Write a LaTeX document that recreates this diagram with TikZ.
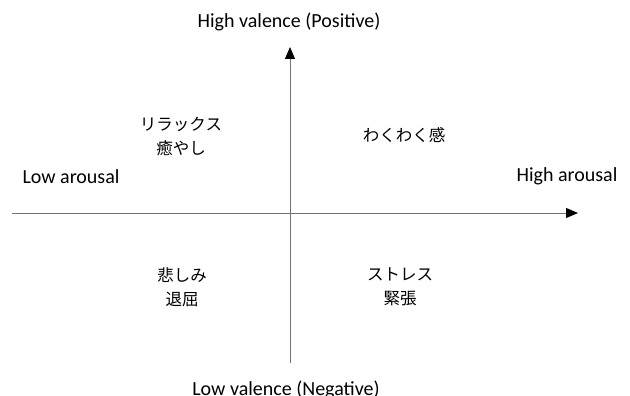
\documentclass[tikz,border=0pt]{standalone}
\usepackage{fontspec}
\setmainfont{Carlito}
\newfontfamily\jpfont{Noto Sans CJK JP}
\usetikzlibrary{arrows.meta}
\begin{document}
\begin{tikzpicture}[x=1pt,y=-1pt,
  axis/.style={draw=black!55, line width=1pt, -{Triangle[length=12pt,width=10pt,color=black]}},
  lab/.style={font=\fontsize{20}{24}\selectfont, inner sep=0pt, text=black, anchor=base},
  jp/.style={font=\jpfont\fontsize{16.5}{24}\selectfont, align=center, inner sep=0pt}]
\useasboundingbox (0,0) rectangle (630,396);
\coordinate (hstart) at (12,213);
\coordinate (hend) at (578,213);
\coordinate (vstart) at (290,363);
\coordinate (vend) at (290,47);
\draw[axis] (hstart) -- (hend);
\draw[axis] (vstart) -- (vend);
\node[lab] (hv) at (289,28) {High valence (Positive)};
\node[lab] (lv) at (286,395) {Low valence (Negative)};
\node[lab] (la) at (71,183) {Low arousal};
\node[lab] (ha) at (567,182) {High arousal};
\node[jp] (q2) at (181,137) {リラックス\\癒やし};
\node[jp] (q1) at (404,135) {わくわく感};
\node[jp] (q3) at (182,287) {悲しみ\\退屈};
\node[jp] (q4) at (400,287) {ストレス\\緊張};
\end{tikzpicture}
\end{document}
